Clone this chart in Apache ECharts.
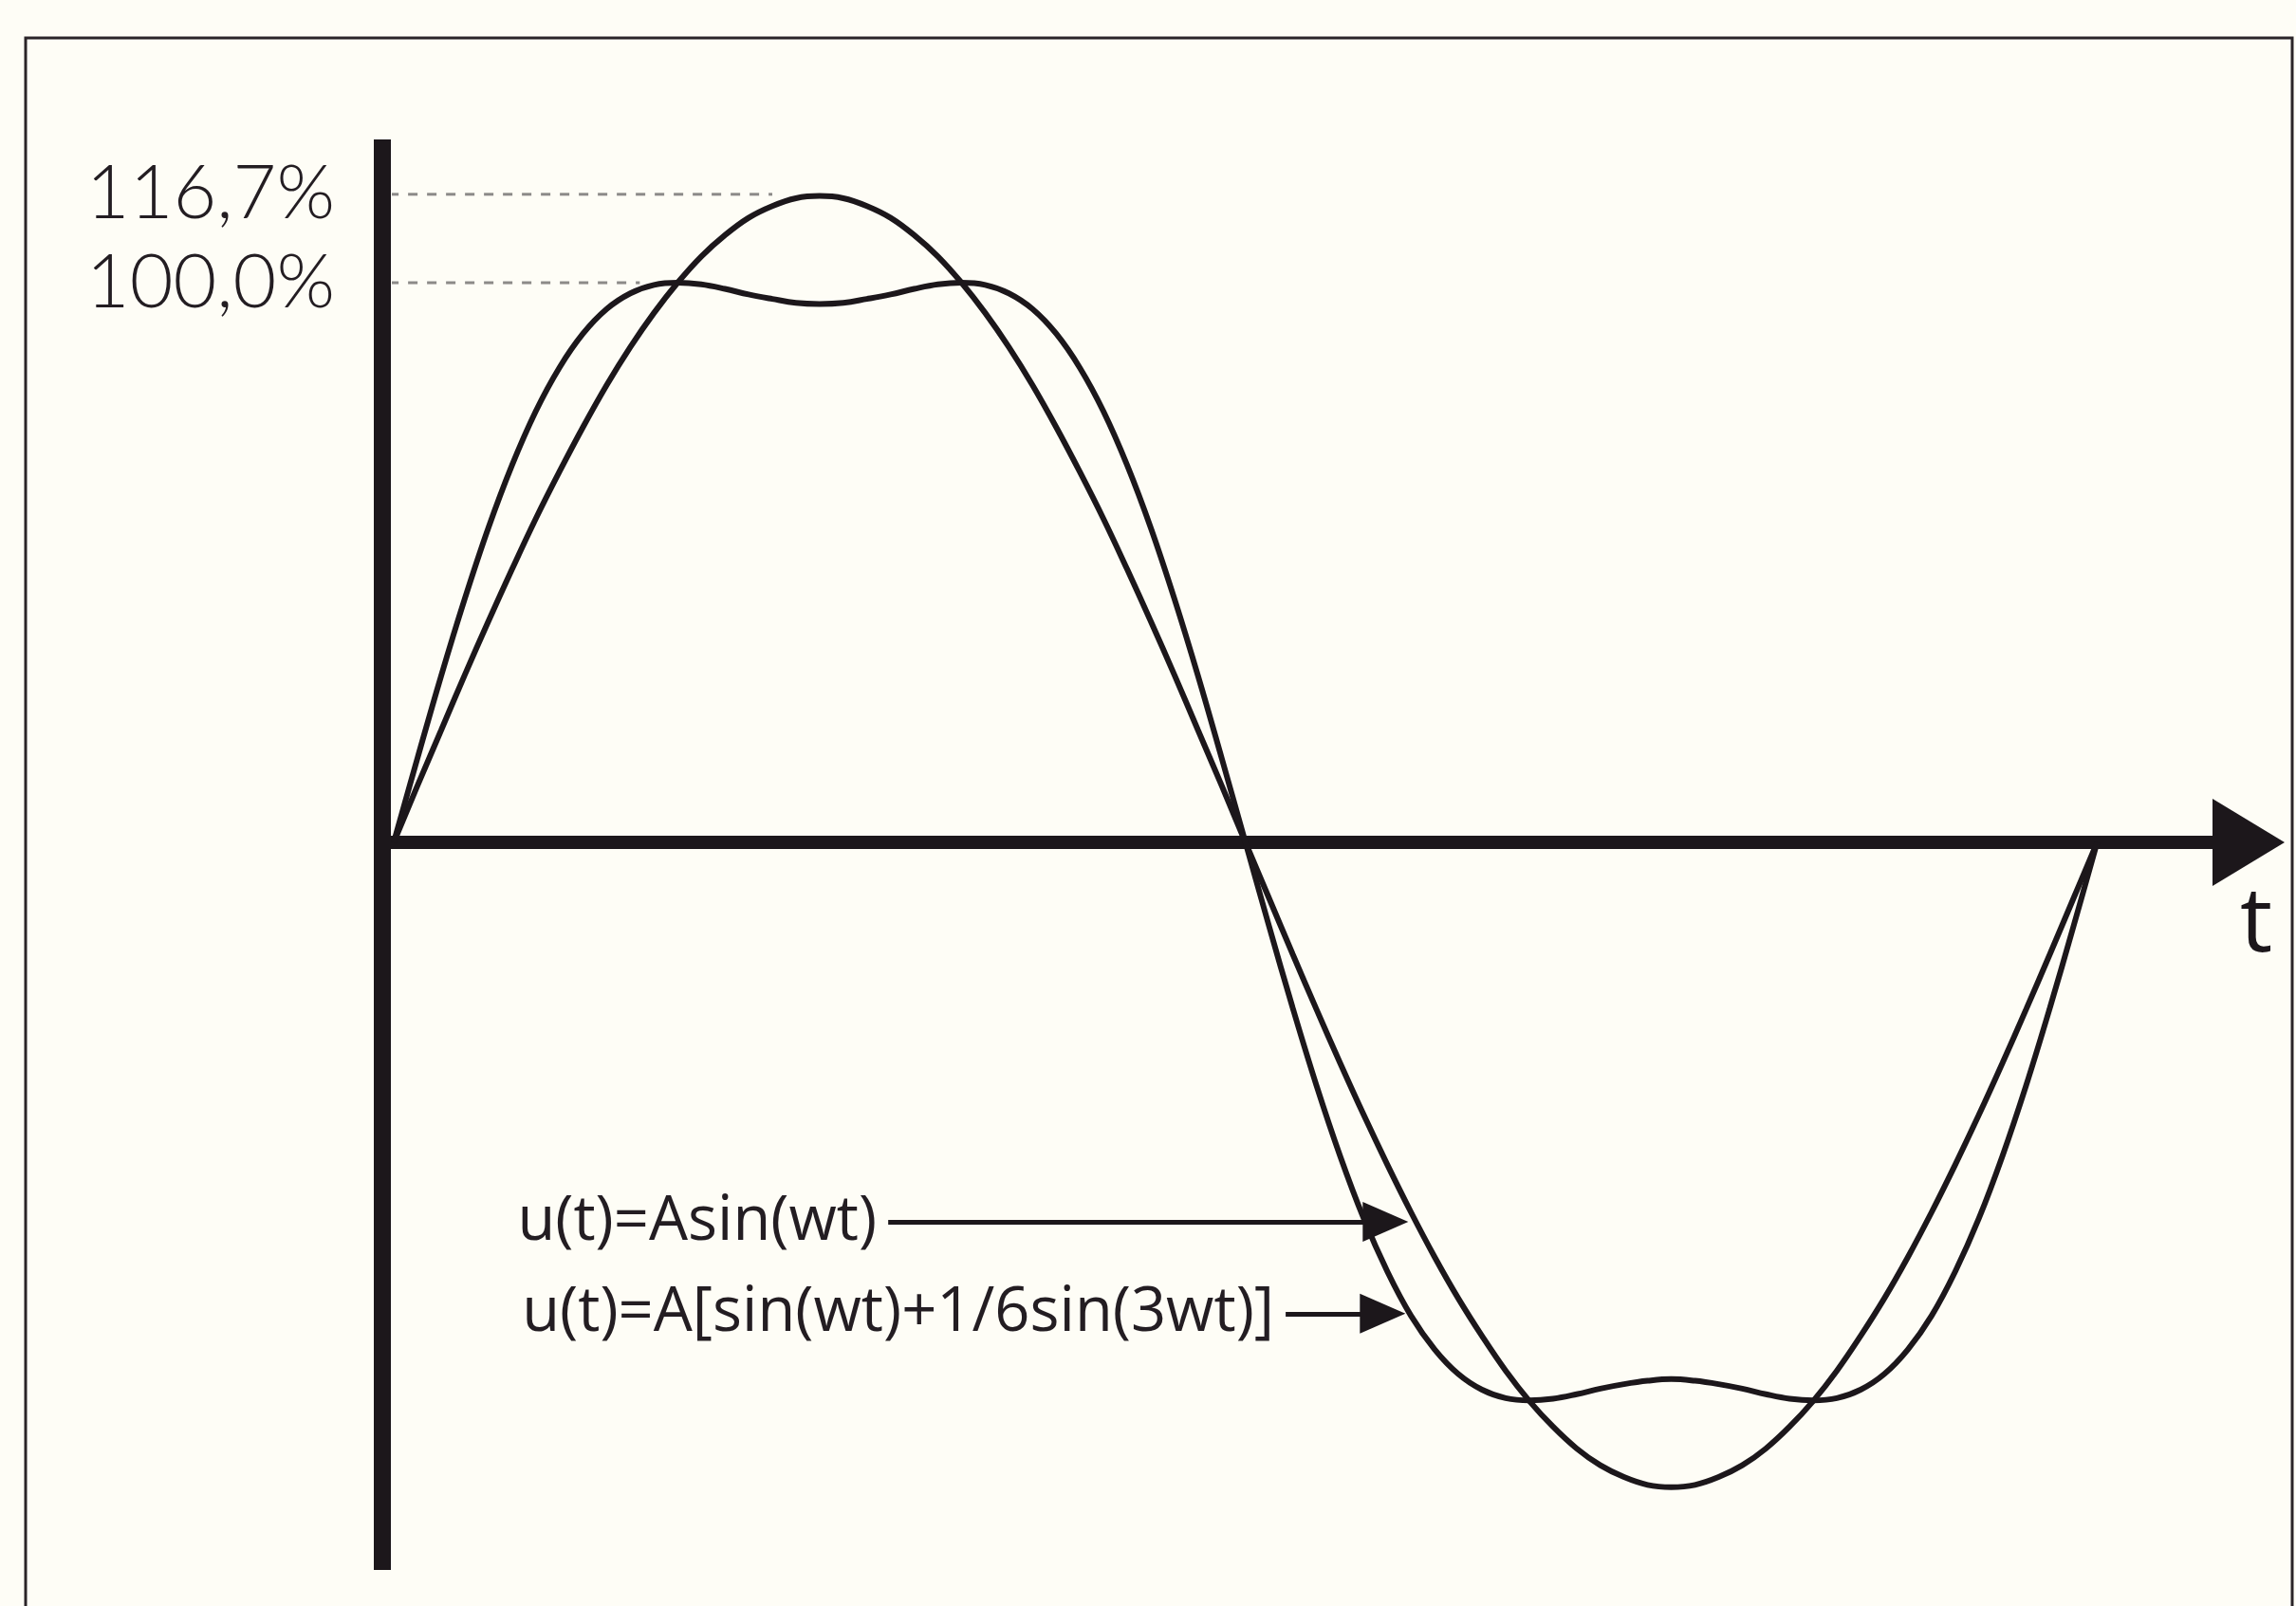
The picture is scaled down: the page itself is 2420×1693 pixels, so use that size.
<!DOCTYPE html>
<html>
<head>
<meta charset="utf-8">
<script src="https://cdn.jsdelivr.net/npm/echarts@6/dist/echarts.min.js"></script>
<style>
  html, body { margin: 0; padding: 0; background: #fefdf6; }
  #chart { width: 2420px; height: 1693px; }
</style>
</head>
<body>
<div id="chart"></div>
<script>
// phase angle (degrees) of the samples
const angles = [0,5,10,15,20,25,30,35,40,45,50,55,60,65,70,75,80,85,90,
                95,100,105,110,115,120,125,130,135,140,145,150,155,160,165,170,175,180,
                185,190,195,200,205,210,215,220,225,230,235,240,245,250,255,260,265,270,
                275,280,285,290,295,300,305,310,315,320,325,330,335,340,345,350,355,360];
// u(t)=Asin(wt), as fraction of 100 %
const sineWave = [0,0.101,0.200,0.299,0.395,0.488,0.578,0.662,0.742,0.817,0.885,0.946,1.000,1.047,1.085,1.116,1.137,1.151,1.155,
                  1.151,1.137,1.116,1.085,1.047,1.000,0.946,0.885,0.817,0.742,0.662,0.578,0.488,0.395,0.299,0.200,0.101,0,
                  -0.100,-0.200,-0.298,-0.394,-0.487,-0.576,-0.661,-0.741,-0.815,-0.882,-0.944,-0.998,-1.044,-1.083,-1.113,-1.134,-1.148,-1.152,
                  -1.148,-1.134,-1.113,-1.083,-1.044,-0.998,-0.944,-0.882,-0.815,-0.741,-0.661,-0.576,-0.487,-0.394,-0.298,-0.200,-0.100,0];
// u(t)=A[sin(wt)+1/6sin(3wt)]
const flatWave = [0,0.150,0.297,0.435,0.562,0.674,0.770,0.848,0.909,0.953,0.981,0.996,1.000,0.997,0.989,0.979,0.971,0.964,0.962,
                  0.964,0.971,0.979,0.989,0.997,1.000,0.996,0.981,0.953,0.909,0.848,0.770,0.674,0.562,0.435,0.297,0.150,0,
                  -0.150,-0.296,-0.434,-0.560,-0.672,-0.767,-0.846,-0.906,-0.950,-0.978,-0.993,-0.997,-0.994,-0.986,-0.976,-0.968,-0.962,-0.959,
                  -0.962,-0.968,-0.976,-0.986,-0.994,-0.997,-0.993,-0.978,-0.950,-0.906,-0.846,-0.767,-0.672,-0.560,-0.434,-0.296,-0.150,0];
// y tick values and labels
const tickValues = [1.0, 1.158];
const tickLabels = ['100,0%', '116,7%'];
// dashed reference lines: level, start angle, end angle (where they meet the curve)
const refLevels = [1.158, 1.0];
const refStart = [-9, -9];
const refEnd = [80, 52];
// annotations: text, level, line start angle, arrow end angle
const noteTexts = ['u(t)=Asin(wt)', 'u(t)=A[sin(wt)+1/6sin(3wt)]'];
const noteLevels = [-0.678, -0.842];
const noteStart = [104.5, 188.5];
const noteEnd = [209.6, 209.0];

const ink = '#1c171b';
const chart = echarts.init(document.getElementById('chart'), null, { renderer: 'canvas' });

const pairs = (ys) => angles.map((a, i) => [a, ys[i]]);

const refSeries = refLevels.map((lv, i) => ({
  type: 'line',
  data: [[refStart[i], lv], [refEnd[i], lv]],
  clip: false,
  showSymbol: false,
  silent: true,
  z: 1,
  lineStyle: { color: '#8c8a88', width: 3, type: [10, 10] }
}));

const option = {
  backgroundColor: '#fefdf6',
  animation: false,
  graphic: [{
    type: 'rect',
    shape: { x: 27, y: 40, width: 2389, height: 1700 },
    style: { fill: 'none', stroke: '#2a2428', lineWidth: 3 },
    silent: true
  }],
  grid: { left: 415, right: 50, top: 147, bottom: 38, containLabel: false },
  xAxis: {
    type: 'value',
    min: 0,
    max: 392,
    name: 't',
    nameLocation: 'end',
    nameGap: 8,
    nameTextStyle: {
      fontFamily: 'Open Sans', fontSize: 96, color: ink,
      align: 'center', verticalAlign: 'top', padding: [40, 0, 0, 0]
    },
    axisLine: {
      onZero: true,
      lineStyle: { color: ink, width: 14, cap: 'square' },
      symbol: ['none', 'triangle'],
      symbolSize: [92, 76]
    },
    axisTick: { show: false },
    axisLabel: { show: false },
    splitLine: { show: false }
  },
  yAxis: {
    type: 'value',
    min: -1.300,
    max: 1.256,
    offset: 12,
    axisLine: { show: true, onZero: false, lineStyle: { color: ink, width: 18, cap: 'butt' } },
    axisTick: { show: false },
    splitLine: { show: false },
    axisLabel: {
      show: true,
      customValues: tickValues,
      margin: 50,
      fontFamily: 'Lato', fontWeight: 300, fontSize: 79, color: '#231d22',
      formatter: function (v) {
        let best = 0;
        tickValues.forEach((t, i) => { if (Math.abs(t - v) < Math.abs(tickValues[best] - v)) best = i; });
        return tickLabels[best];
      }
    }
  },
  series: [
    ...refSeries,
    {
      name: 'sin',
      type: 'line',
      data: pairs(sineWave),
      smooth: 0.4,
      showSymbol: false,
      z: 3,
      lineStyle: { color: ink, width: 6 },
      markLine: {
        silent: true,
        animation: false,
        lineStyle: { color: ink, width: 5, type: 'solid' },
        label: {
          show: true, position: 'start', distance: 12, formatter: '{b}',
          fontFamily: 'Open Sans', fontWeight: 400, fontSize: 65, color: '#231d22'
        },
        data: noteTexts.map((t, i) => [
          { name: t, coord: [noteStart[i], noteLevels[i]], symbol: 'none' },
          { coord: [noteEnd[i], noteLevels[i]], symbol: 'triangle', symbolSize: [42, 48] }
        ])
      }
    },
    {
      name: 'flat',
      type: 'line',
      data: pairs(flatWave),
      smooth: 0.4,
      showSymbol: false,
      z: 3,
      lineStyle: { color: ink, width: 6 }
    }
  ]
};
chart.setOption(option);
</script>
</body>
</html>
